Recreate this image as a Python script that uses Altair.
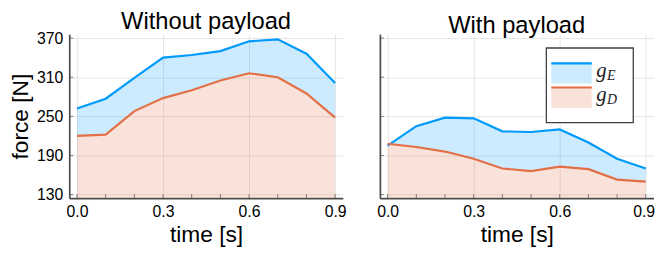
import altair as alt
import pandas as pd

# ---- data ----
t = [0.0, 0.1, 0.2, 0.3, 0.4, 0.5, 0.6, 0.7, 0.8, 0.9]
no_payload_gE = [262, 277, 309, 340, 344, 350, 365, 368, 346, 301]
no_payload_gD = [220, 222, 258, 278, 290, 305, 316, 310, 285, 248]
payload_gE = [205, 235, 248, 247, 227, 226, 230, 210, 185, 170]
payload_gD = [208, 203, 196, 185, 170, 166, 173, 169, 153, 150]

panel_titles = ["Without payload", "With payload"]
x_tick_labels = [0.0, 0.3, 0.6, 0.9]
x_minor_ticks = [0.0, 0.1, 0.2, 0.3, 0.4, 0.5, 0.6, 0.7, 0.8, 0.9]
y_tick_labels = [130, 190, 250, 310, 370]
legend_series = ["E", "D"]

BLUE = "#009AFA"
ORANGE = "#E26F46"
SPINE = "#4a4a4a"
W, H = 277, 166
X_DOM = [-0.027, 0.927]
Y_DOM = [124.6, 376]
FONT = "Liberation Sans"

xticks_df = pd.DataFrame({"v": x_minor_ticks})
yticks_df = pd.DataFrame({"v": y_tick_labels})


def panel(title, gE, gD, show_y_labels, legend=False):
    df = pd.DataFrame({"t": t, "gE": gE, "gD": gD})
    base = alt.Chart(df)
    extra = {}
    if legend:
        # keep the last label inside the page, as in the (cropped) reference
        extra = dict(
            labelAlign=alt.condition("datum.value >= 0.89", alt.value("right"), alt.value("center")),
            labelOffset=alt.condition("datum.value >= 0.89", alt.value(9), alt.value(0)),
        )
    xenc = alt.X(
        "t:Q",
        scale=alt.Scale(domain=X_DOM, nice=False, zero=False),
        axis=alt.Axis(values=x_tick_labels, format=".1f", title="time [s]", ticks=False,
                      tickSize=0, grid=True, gridColor="#e6e6e6", domainColor=SPINE,
                      domainWidth=1.7, labelFontSize=16, titleFontSize=23,
                      titleFontWeight="normal", labelPadding=6, titlePadding=4,
                      labelColor="#000", titleColor="#000", **extra),
    )
    yscale = alt.Scale(domain=Y_DOM, nice=False, zero=False)
    yaxis = alt.Axis(values=y_tick_labels, title="force [N]" if show_y_labels else None,
                     labels=show_y_labels, ticks=False, tickSize=0, grid=True,
                     gridColor="#e6e6e6", domainColor=SPINE, domainWidth=1.7,
                     labelFontSize=16, titleFontSize=23, titleFontWeight="normal",
                     labelPadding=6.5, titlePadding=4, labelColor="#000", titleColor="#000")
    area_e = base.mark_area(color=BLUE, opacity=0.2, clip=True).encode(
        x=xenc, y=alt.Y("gE:Q", scale=yscale, axis=yaxis), y2="gD:Q")
    area_d = base.mark_area(color=ORANGE, opacity=0.2, clip=True).encode(
        x="t:Q", y="gD:Q", y2=alt.value(H))
    line_e = base.mark_line(color=BLUE, strokeWidth=2.2, clip=True).encode(x="t:Q", y="gE:Q")
    line_d = base.mark_line(color=ORANGE, strokeWidth=2.2, clip=True).encode(x="t:Q", y="gD:Q")
    xt = alt.Chart(xticks_df).mark_tick(orient="vertical", size=4, thickness=1, color=SPINE).encode(
        x="v:Q", y=alt.value(H - 2))
    yt = alt.Chart(yticks_df).mark_tick(orient="horizontal", size=4, thickness=1, color=SPINE).encode(
        y="v:Q", x=alt.value(2))
    layers = [area_e, area_d, line_e, line_d, xt, yt]
    if legend:
        box = alt.Chart(pd.DataFrame({"a": [0]})).mark_rect(
            fill="white", stroke="#404040", strokeWidth=1.3).encode(
            x=alt.value(168.5), x2=alt.value(256.5), y=alt.value(14), y2=alt.value(89.5))
        layers.append(box)
        for i, (s, c) in enumerate(zip(legend_series, [BLUE, ORANGE])):
            top = 28.5 + i * 24.5
            one = alt.Chart(pd.DataFrame({"s": [s]}))
            layers.append(one.mark_rect(color=c, opacity=0.2).encode(
                x=alt.value(173.5), x2=alt.value(214.5), y=alt.value(top), y2=alt.value(top + 21.5)))
            layers.append(one.mark_rule(color=c, strokeWidth=2.2).encode(
                x=alt.value(173.5), x2=alt.value(214.5), y=alt.value(top + 1)))
            layers.append(one.mark_text(text="g", font="Liberation Serif", fontStyle="italic",
                                        fontSize=21, align="left", baseline="alphabetic",
                                        color="#222").encode(
                x=alt.value(219), y=alt.value(top + 14.5)))
            layers.append(one.mark_text(font="Liberation Serif", fontStyle="italic",
                                        fontSize=14, align="left", baseline="alphabetic",
                                        color="#222").encode(
                text="s:N", x=alt.value(230), y=alt.value(top + 17.5)))
    return alt.layer(*layers).properties(
        width=W, height=H,
        title=alt.TitleParams(title, fontSize=24, fontWeight="normal", color="#000", offset=-4))


left = panel(panel_titles[0], no_payload_gE, no_payload_gD, True)
right = panel(panel_titles[1], payload_gE, payload_gD, False, legend=True)

chart = alt.hconcat(left, right, spacing=37.5).properties(
    bounds="flush", padding={"left": 1, "top": 0, "right": 0, "bottom": 0}
).configure(font=FONT).configure_view(stroke=None)

chart.save("out.html", embed_options={"renderer": "svg", "actions": False})
